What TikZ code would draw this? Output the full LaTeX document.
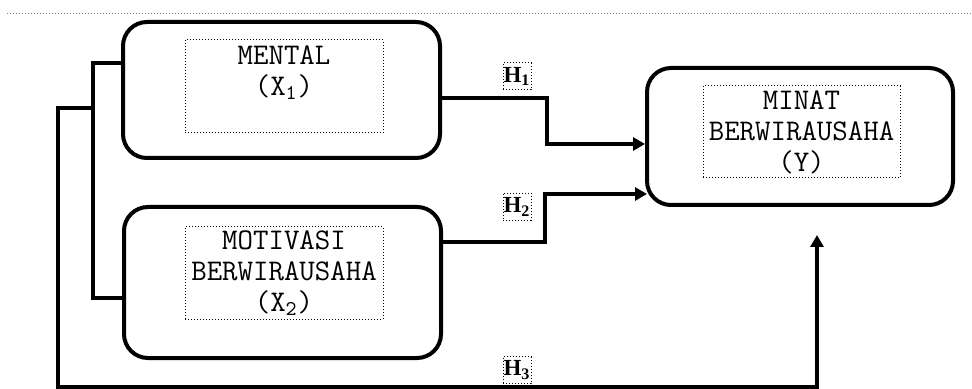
\documentclass[tikz,border=0pt]{standalone}
\usepackage{fontspec}
\setmainfont{Liberation Serif}
\usetikzlibrary{arrows.meta,calc}
\tikzset{
    box/.style={draw, line width=2pt, rounded corners=12pt},
    innerbox/.style={draw, densely dotted, line width=0.5pt, inner sep=0pt},
    boxtext/.style={align=center, inner sep=0pt, font=\ttfamily\fontsize{15}{15.5}\selectfont},
    hlabel/.style={draw, densely dotted, line width=0.5pt, minimum width=14pt, minimum height=13.5pt, inner sep=0pt, font=\fontsize{11.5}{12}\selectfont},
    link/.style={line width=1.6pt},
    tip/.style={-{Triangle[length=6pt,width=6.5pt]}}
}
\begin{document}
\begin{tikzpicture}[x=0.5pt,y=-0.5pt]
    \useasboundingbox (0,0) rectangle (972,389);

    % Trennlinie oben
    \draw[densely dotted, gray, line width=0.5pt] (7,14) -- (972,14);

    % Variablen
    \node[box, minimum width=158.5pt, minimum height=68pt] (x1box) at (281.5,90) {};
    \node[box, minimum width=158.5pt, minimum height=75.5pt] (x2box) at (282.5,282.5) {};
    \node[box, minimum width=153pt, minimum height=68.5pt] (ybox) at (800,136.5) {};

    \node[innerbox, minimum width=99pt, minimum height=46.5pt] (m1) at (284,86.5) {};
    \node[boxtext, anchor=north] (t1) at ($(m1.north)+(0,5.5)$) {MENTAL\\(X\textsubscript{1})};
    \node[innerbox, boxtext, minimum width=99pt, minimum height=46pt] (m2) at (284,273)
        {MOTIVASI\\BERWIRAUSAHA\\(X\textsubscript{2})};
    \node[innerbox, boxtext, minimum width=98.5pt, minimum height=46pt] (my) at (801.5,132)
        {MINAT\\BERWIRAUSAHA\\(Y)};

    % Hypothesen
    \node[hlabel] (h1) at (517,76.5) {\textbf{H\textsubscript{1}}};
    \node[hlabel] (h2) at (517,207) {\textbf{H\textsubscript{2}}};
    \node[hlabel] (h3) at (517,370) {\textbf{H\textsubscript{3}}};

    % Pfeile H1 und H2
    \draw[link, tip] ($(x1box.east)+(0,8)$) -- ++(105,0) |- ($(ybox.west)+(0,7.5)$);
    \draw[link, tip] ($(x2box.east)+(0,-40.5)$) -- ++(102,0) |- ($(ybox.west)+(2,57.5)$);

    % Klammer links und Pfeil H3
    \draw[link] ($(x1box.west)+(0,-27)$) -- ++(-28,0) coordinate (b1) |- ($(x2box.west)+(0,15.5)$);
    \coordinate (yin) at ($(ybox.south)+(17,28)$);
    \draw[link, tip] ($(b1)+(0,45)$) -- ++(-35,0) -- ++(0,279) -| (yin);
\end{tikzpicture}
\end{document}
